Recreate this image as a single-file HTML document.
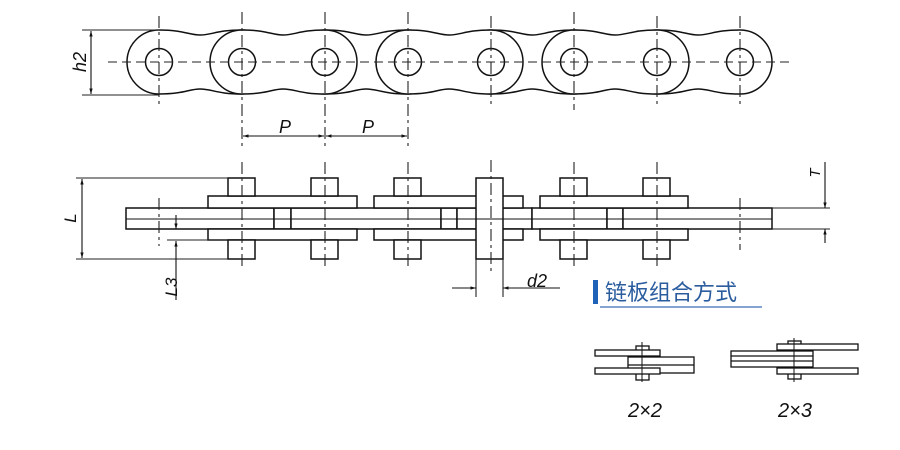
<!DOCTYPE html>
<html><head><meta charset="utf-8"><style>
body{margin:0;background:#fff;}
svg{display:block;font-family:"Liberation Sans",sans-serif;}
</style></head><body>
<svg width="900" height="450" viewBox="0 0 900 450" xmlns="http://www.w3.org/2000/svg">
<defs>
<marker id="a" viewBox="0 0 10 10" refX="10" refY="5" markerWidth="9" markerHeight="5" orient="auto-start-reverse"><path d="M0,2L10,5L0,8z" fill="#111"/></marker>
</defs>
<g stroke="#111" stroke-width="1.5" fill="#fff">
<path d="M159,30 C184,30 189,35 200,35 C212,35 217,30 242,30 A32,32 0 0 1 242,94 C217,94 212,89 200,89 C189,89 184,94 159,94 A32,32 0 0 1 159,30Z"/>
<path d="M325,30 C350,30 355,35 366,35 C378,35 383,30 408,30 A32,32 0 0 1 408,94 C383,94 378,89 366,89 C355,89 350,94 325,94 A32,32 0 0 1 325,30Z"/>
<path d="M491,30 C516,30 521,35 532,35 C544,35 549,30 574,30 A32,32 0 0 1 574,94 C549,94 544,89 532,89 C521,89 516,94 491,94 A32,32 0 0 1 491,30Z"/>
<path d="M657,30 C682,30 687,35 698,35 C710,35 715,30 740,30 A32,32 0 0 1 740,94 C715,94 710,89 698,89 C687,89 682,94 657,94 A32,32 0 0 1 657,30Z"/>
<path d="M242,30 C267,30 272,35 283,35 C295,35 300,30 325,30 A32,32 0 0 1 325,94 C300,94 295,89 283,89 C272,89 267,94 242,94 A32,32 0 0 1 242,30Z"/>
<path d="M408,30 C433,30 438,35 449,35 C461,35 466,30 491,30 A32,32 0 0 1 491,94 C466,94 461,89 449,89 C438,89 433,94 408,94 A32,32 0 0 1 408,30Z"/>
<path d="M574,30 C599,30 604,35 615,35 C627,35 632,30 657,30 A32,32 0 0 1 657,94 C632,94 627,89 615,89 C604,89 599,94 574,94 A32,32 0 0 1 574,30Z"/>
<g>
<circle cx="159" cy="62" r="13.5"/><circle cx="242" cy="62" r="13.5"/><circle cx="325" cy="62" r="13.5"/><circle cx="408" cy="62" r="13.5"/><circle cx="491" cy="62" r="13.5"/><circle cx="574" cy="62" r="13.5"/><circle cx="657" cy="62" r="13.5"/><circle cx="740" cy="62" r="13.5"/>
</g>
</g>
<g stroke="#222" stroke-width="1.1" fill="none">
<line x1="108" y1="62" x2="790" y2="62" stroke-dasharray="9,5"/>
<line x1="159" y1="16" x2="159" y2="106" stroke-dasharray="12,4,3,4"/>
<line x1="242" y1="12" x2="242" y2="148" stroke-dasharray="12,4,3,4"/>
<line x1="325" y1="12" x2="325" y2="148" stroke-dasharray="12,4,3,4"/>
<line x1="408" y1="12" x2="408" y2="148" stroke-dasharray="12,4,3,4"/>
<line x1="491" y1="16" x2="491" y2="106" stroke-dasharray="12,4,3,4"/>
<line x1="574" y1="12" x2="574" y2="110" stroke-dasharray="12,4,3,4"/>
<line x1="657" y1="16" x2="657" y2="106" stroke-dasharray="12,4,3,4"/>
<line x1="740" y1="16" x2="740" y2="106" stroke-dasharray="12,4,3,4"/>
<line x1="82" y1="30" x2="159" y2="30"/><line x1="82" y1="95" x2="159" y2="95"/>
<line x1="91" y1="31" x2="91" y2="94" stroke="#111" marker-start="url(#a)" marker-end="url(#a)"/>
<line x1="243" y1="136" x2="324" y2="136" stroke="#111" marker-start="url(#a)" marker-end="url(#a)"/>
<line x1="326" y1="136" x2="407" y2="136" stroke="#111" marker-start="url(#a)" marker-end="url(#a)"/>
</g>
<text transform="translate(86,62) rotate(-90)" text-anchor="middle" font-size="18" font-style="italic" fill="#111">h2</text>
<text x="285" y="133" text-anchor="middle" font-size="18" font-style="italic" fill="#111">P</text>
<text x="368" y="133" text-anchor="middle" font-size="18" font-style="italic" fill="#111">P</text>

<g stroke="#111" stroke-width="1.5" fill="#fff">
<rect x="126" y="208" width="148" height="21"/>
<rect x="274" y="208" width="17" height="21"/>
<rect x="291" y="208" width="150" height="21"/>
<rect x="441" y="208" width="16" height="21"/>
<rect x="457" y="208" width="75" height="21"/>
<rect x="532" y="208" width="75" height="21"/>
<rect x="607" y="208" width="16" height="21"/>
<rect x="623" y="208" width="149" height="21"/>
<rect x="208" y="196" width="149" height="12"/><rect x="208" y="229" width="149" height="11"/>
<rect x="374" y="196" width="149" height="12"/><rect x="374" y="229" width="149" height="11"/>
<rect x="540" y="196" width="148" height="12"/><rect x="540" y="229" width="148" height="11"/>
<rect x="228" y="178" width="27" height="18"/><rect x="228" y="240" width="27" height="19"/>
<rect x="311" y="178" width="27" height="18"/><rect x="311" y="240" width="27" height="19"/>
<rect x="394" y="178" width="27" height="18"/><rect x="394" y="240" width="27" height="19"/>
<rect x="560" y="178" width="27" height="18"/><rect x="560" y="240" width="27" height="19"/>
<rect x="643" y="178" width="27" height="18"/><rect x="643" y="240" width="27" height="19"/>
<rect x="476" y="178" width="27" height="81"/>
</g>
<line x1="126" y1="219" x2="772" y2="219" stroke="#111" stroke-width="1"/>
<g stroke="#222" stroke-width="1.1" fill="none">
<g stroke-dasharray="12,4,3,4">
<line x1="159" y1="198" x2="159" y2="246"/>
<line x1="242" y1="162" x2="242" y2="270"/>
<line x1="325" y1="162" x2="325" y2="270"/>
<line x1="408" y1="162" x2="408" y2="270"/>
<line x1="491" y1="160" x2="491" y2="272"/>
<line x1="574" y1="162" x2="574" y2="270"/>
<line x1="657" y1="162" x2="657" y2="270"/>
<line x1="740" y1="198" x2="740" y2="250"/>
</g>
<line x1="76" y1="178" x2="228" y2="178"/><line x1="76" y1="259" x2="228" y2="259"/>
<line x1="82" y1="179" x2="82" y2="258" stroke="#111" marker-start="url(#a)" marker-end="url(#a)"/>
<line x1="167" y1="240" x2="228" y2="240"/>
<line x1="176" y1="215" x2="176" y2="229" stroke="#111" marker-end="url(#a)"/>
<line x1="176" y1="300" x2="176" y2="241" stroke="#111" marker-end="url(#a)"/>
<line x1="476" y1="259" x2="476" y2="297"/><line x1="503" y1="259" x2="503" y2="297"/>
<line x1="452" y1="288" x2="476" y2="288" stroke="#111" marker-end="url(#a)"/>
<line x1="560" y1="288" x2="503" y2="288" stroke="#111" marker-end="url(#a)"/>
<line x1="772" y1="208" x2="830" y2="208"/><line x1="772" y1="229" x2="830" y2="229"/>
<line x1="825" y1="162" x2="825" y2="208" stroke="#111" marker-end="url(#a)"/>
<line x1="825" y1="243" x2="825" y2="229" stroke="#111" marker-end="url(#a)"/>
</g>
<text transform="translate(76,218) rotate(-90)" text-anchor="middle" font-size="17" font-style="italic" fill="#111">L</text>
<text transform="translate(177,287) rotate(-90)" text-anchor="middle" font-size="17" font-style="italic" fill="#111">L3</text>
<text x="537" y="287" text-anchor="middle" font-size="18" font-style="italic" fill="#111">d2</text>
<text transform="translate(820,173) rotate(-90)" text-anchor="middle" font-size="15" font-style="italic" fill="#111">T</text>

<rect x="593" y="280" width="5" height="24" fill="#1e63b8"/>
<text x="605" y="300" font-family="'Liberation Sans','Noto Sans CJK SC',sans-serif" font-size="22" fill="#2a5c9e">链板组合方式</text>
<line x1="600" y1="307" x2="762" y2="307" stroke="#3a6fb8" stroke-width="1.2"/>

<g stroke="#111" stroke-width="1.3" fill="#fff">
<rect x="636" y="346" width="13" height="34"/>
<rect x="595" y="350" width="65" height="6"/>
<rect x="628" y="357" width="66" height="16"/>
<rect x="595" y="368" width="65" height="6"/>
<line x1="628" y1="365" x2="694" y2="365"/>
<line x1="642" y1="342" x2="642" y2="382" stroke-width="1"/>
</g>
<g stroke="#111" stroke-width="1.3" fill="#fff">
<rect x="788" y="341" width="13" height="38"/>
<rect x="777" y="344" width="81" height="6"/>
<rect x="731" y="351" width="82" height="16"/>
<line x1="731" y1="356" x2="813" y2="356"/><line x1="731" y1="361" x2="813" y2="361"/>
<rect x="777" y="368" width="81" height="6"/>
<line x1="794" y1="338" x2="794" y2="382" stroke-width="1"/>
</g>
<text x="645" y="417" text-anchor="middle" font-size="20" font-style="italic" fill="#111">2×2</text>
<text x="795" y="417" text-anchor="middle" font-size="20" font-style="italic" fill="#111">2×3</text>
</svg>
</body></html>
